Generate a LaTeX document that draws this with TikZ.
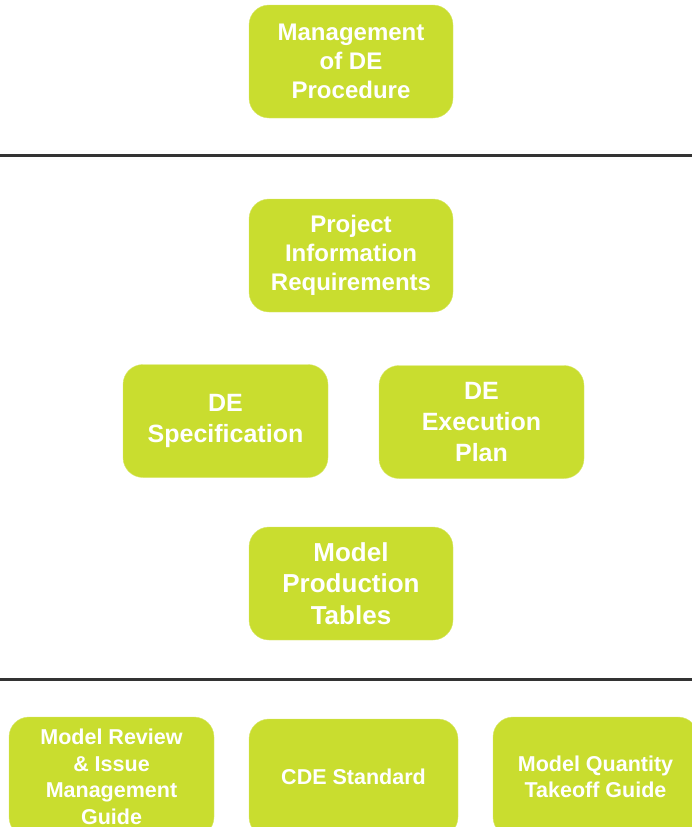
\documentclass[tikz,border=0pt]{standalone}
\usepackage{fontspec}
\setmainfont{Liberation Sans}
\usetikzlibrary{positioning}
\definecolor{degreen}{RGB}{201,221,47}
\definecolor{sepgray}{RGB}{51,51,51}
\tikzset{
    deboxl/.style = {rectangle, rounded corners=20pt, fill=degreen, draw=degreen!70!white, thin, align=center, text=white, inner sep=0pt, minimum width=204pt, minimum height=113pt, font=\bfseries\fontsize{24}{28.8}\selectfont},
    deboxm/.style = {deboxl, minimum width=205pt, font=\bfseries\fontsize{25}{31}\selectfont},
    deboxs/.style = {deboxl, minimum width=205pt, minimum height=120pt, font=\bfseries\fontsize{21.5}{26.5}\selectfont},
    sepline/.style = {-, line width=3pt, sepgray}
}
\begin{document}
\begin{tikzpicture}[x=1pt,y=-1pt]
\useasboundingbox (0,0) rectangle (692,827);
\clip (0,0) rectangle (692,827);

% top tier
\node[deboxl] at (351, 61.5) (mgmt) {Management\\of DE\\Procedure};

\coordinate (sepa) at (0,155);
\coordinate (sepb) at (692,155);
\draw[sepline] (sepa) -- (sepb);

% middle tier
\node[deboxl] at (351, 255.5) (pir) {Project\\Information\\Requirements};
\node[deboxm] at (225.5, 421.0) (spec) {DE\\Specification};
\node[deboxm] at (481.5, 422.0) (exec) {DE\\Execution\\Plan};
\node[deboxm, minimum width=204pt, font=\bfseries\fontsize{26}{31.5}\selectfont] at (351, 583.5) (mpt) {Model\\Production\\Tables};

\coordinate (sepc) at (0,679);
\coordinate (sepd) at (692,679);
\draw[sepline] (sepc) -- (sepd);

% bottom tier
\node[deboxs] at (111.5, 777.0) (review) {Model Review\\\& Issue\\Management\\Guide};
\node[deboxs, minimum width=209pt, minimum height=118pt] at (353.5, 778.0) (cde) {\raisebox{2pt}{CDE Standard}};
\node[deboxs] at (595.5, 777.0) (qto) {Model Quantity\\Takeoff Guide};

\end{tikzpicture}
\end{document}
